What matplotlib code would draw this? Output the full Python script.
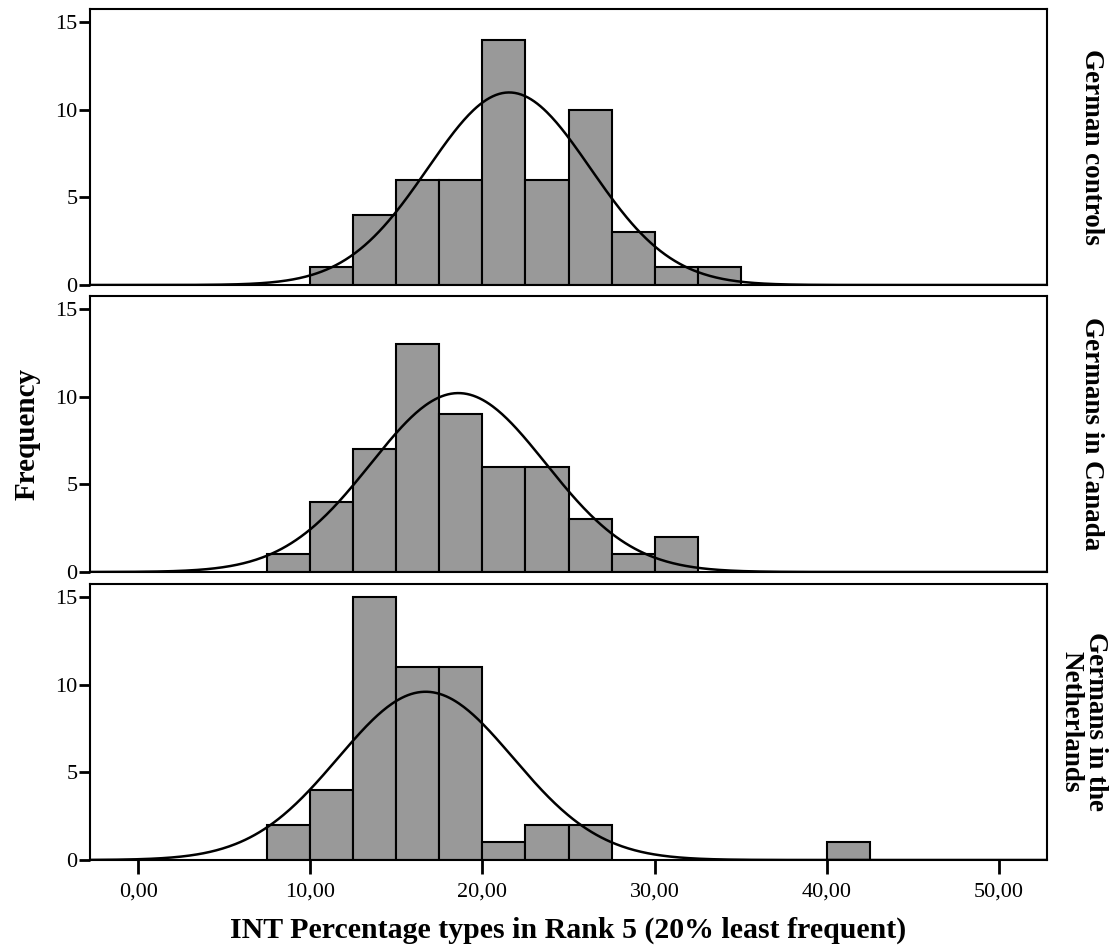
import matplotlib.pyplot as plt
import numpy as np

plt.rcParams['font.family'] = ['Liberation Serif', 'DejaVu Serif']

# bin edges are 2.5 wide
bin_width = 2.5
groups = ['German controls', 'Germans in Canada', 'Germans in the\nNetherlands']

controls_left = [10.0, 12.5, 15.0, 17.5, 20.0, 22.5, 25.0, 27.5, 30.0, 32.5]
controls_count = [1, 4, 6, 6, 14, 6, 10, 3, 1, 1]

canada_left = [7.5, 10.0, 12.5, 15.0, 17.5, 20.0, 22.5, 25.0, 27.5, 30.0]
canada_count = [1, 4, 7, 13, 9, 6, 6, 3, 1, 2]

nl_left = [7.5, 10.0, 12.5, 15.0, 17.5, 20.0, 22.5, 25.0, 40.0]
nl_count = [2, 4, 15, 11, 11, 1, 2, 2, 1]

# normal curve parameters (mean, sd)
curve_mean = [21.55, 18.6, 16.7]
curve_sd = [4.72, 5.08, 5.09]

lefts = [controls_left, canada_left, nl_left]
counts = [controls_count, canada_count, nl_count]

x_ticks = [0, 10, 20, 30, 40, 50]
x_tick_labels = ['0,00', '10,00', '20,00', '30,00', '40,00', '50,00']
y_ticks = [0, 5, 10, 15]

fig = plt.figure(figsize=(11.14, 9.49), dpi=100)
left, width = 90 / 1114, 957 / 1114
tops = [9, 296, 584]
height = 276 / 949
label_x = [1.047, 1.047, 1.038]

xs = np.linspace(-2.8, 52.8, 600)
for i in range(3):
    bottom = 1 - (tops[i] + 276) / 949
    ax = fig.add_axes([left, bottom, width, height])
    ax.bar(lefts[i], counts[i], width=bin_width, align='edge',
           color='#999999', edgecolor='black', linewidth=1.5, zorder=2)
    n = sum(counts[i])
    mu, sd = curve_mean[i], curve_sd[i]
    ys = n * bin_width / (sd * np.sqrt(2 * np.pi)) * np.exp(-0.5 * ((xs - mu) / sd) ** 2)
    ax.plot(xs, ys, color='black', linewidth=1.8, zorder=3)

    ax.set_xlim(-2.8, 52.8)
    ax.set_ylim(0, 15.75)
    ax.set_yticks(y_ticks)
    ax.set_yticklabels([str(t) for t in y_ticks])
    for s in ax.spines.values():
        s.set_linewidth(1.5)
    ax.tick_params(axis='y', direction='out', length=8, width=2,
                   labelsize=16, pad=1)
    if i < 2:
        ax.set_xticks([])
    else:
        ax.set_xticks(x_ticks)
        ax.set_xticklabels(x_tick_labels)
        ax.tick_params(axis='x', direction='out', length=10, width=2,
                       labelsize=16, pad=6)
        ax.set_xlabel('INT Percentage types in Rank 5 (20% least frequent)',
                      fontsize=21.5, fontweight='bold', labelpad=11)
    ax.text(label_x[i], 0.5, groups[i], transform=ax.transAxes, rotation=-90,
            ha='center', va='center', fontsize=19.5, fontweight='bold',
            linespacing=1.0)

fig.text(0.024, 1 - 434 / 949, 'Frequency', rotation=90, ha='center', va='center',
         fontsize=21, fontweight='bold')

fig.savefig('out.png', dpi=100)
